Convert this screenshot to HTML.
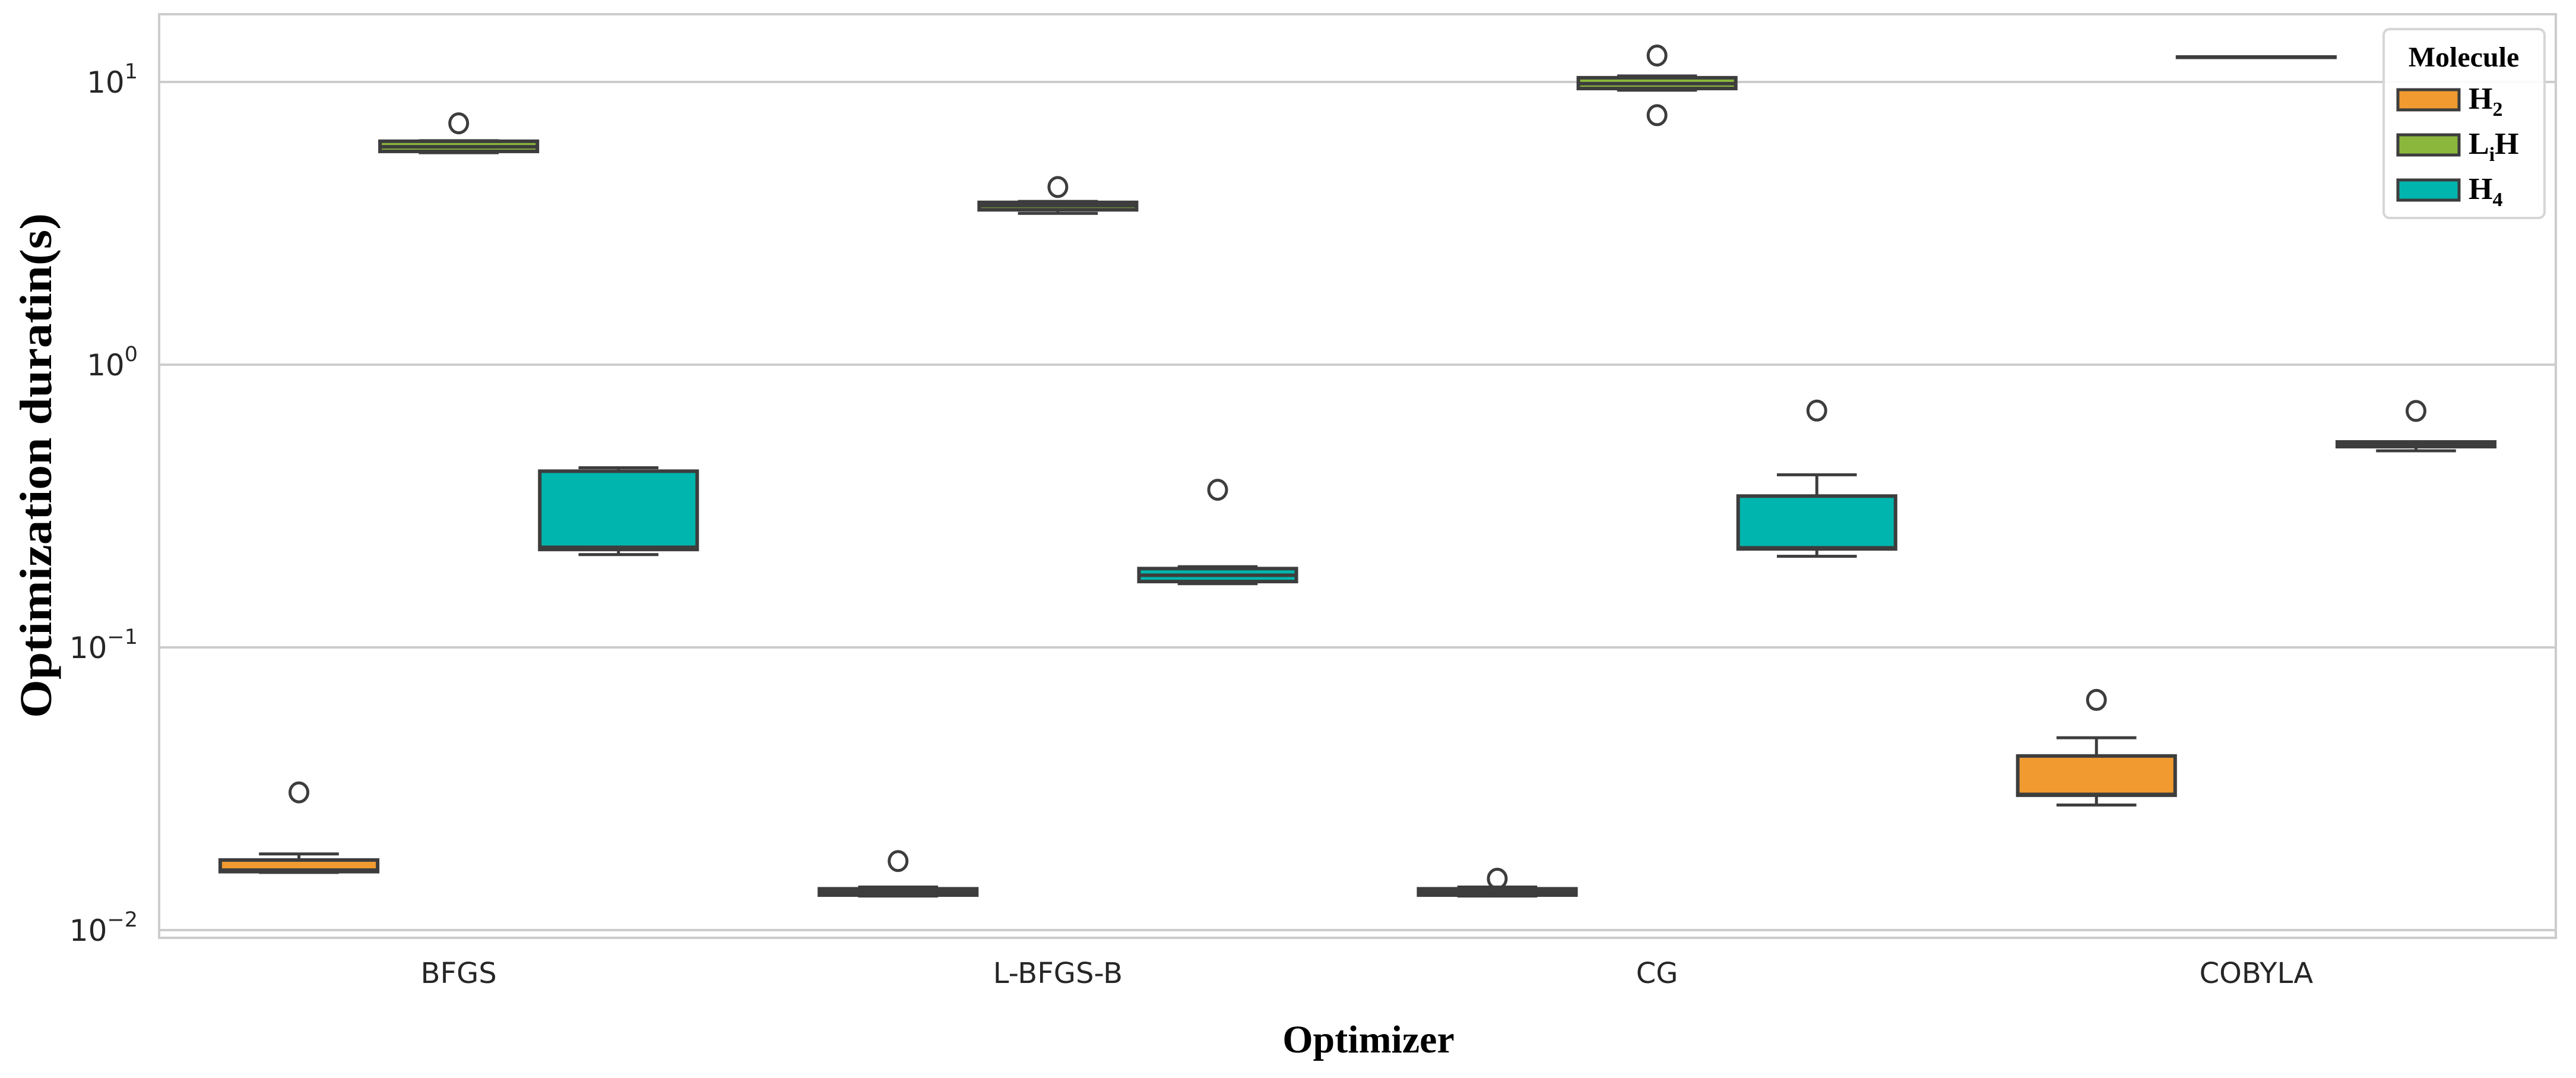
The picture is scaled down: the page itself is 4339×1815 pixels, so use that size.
<!DOCTYPE html>
<html><head><meta charset="utf-8">
<style>
html,body{margin:0;padding:0;background:#fff;}
svg{display:block;}
</style></head>
<body>
<svg id="chart" width="4339" height="1815" viewBox="0 0 4339 1815" xmlns="http://www.w3.org/2000/svg">
<rect x="0" y="0" width="4339" height="1815" fill="#fff"/>
<g id="grid"></g>
<rect x="268" y="24" width="4037" height="1555" fill="none" stroke="#cccccc" stroke-width="4"/>
<g id="yticks"></g>
<g id="xticks"></g>
<g id="boxes"></g>
<text x="61" y="784" transform="rotate(-90 61 784)" text-anchor="middle" dominant-baseline="central" font-family="Liberation Serif, serif" font-weight="bold" font-size="76" textLength="850" lengthAdjust="spacingAndGlyphs" fill="#000">Optimization duratin(s)</text>
<text x="2305" y="1772" text-anchor="middle" font-family="Liberation Serif, serif" font-weight="bold" font-size="66" fill="#000">Optimizer</text>
<g>
  <rect x="4015" y="49" width="271" height="318" rx="10" fill="#fff" fill-opacity="0.9" stroke="#d6d6d6" stroke-width="4"/>
  <text x="4150" y="112" text-anchor="middle" font-family="Liberation Serif, serif" font-weight="bold" font-size="48" fill="#000">Molecule</text>
  <g>
    <rect x="4039" y="151" width="103" height="34" fill="#f09a30" stroke="#3d3d3d" stroke-width="5"/>
    <text x="4158" y="183" font-family="Liberation Serif, serif" font-weight="bold" font-size="52" fill="#000">H<tspan font-size="34" dy="12">2</tspan></text>
  </g>
  <g>
    <rect x="4039" y="227" width="103" height="34" fill="#8bb83c" stroke="#3d3d3d" stroke-width="5"/>
    <text x="4158" y="259" font-family="Liberation Serif, serif" font-weight="bold" font-size="52" fill="#000">L<tspan font-size="34" dy="12">i</tspan><tspan dy="-12">H</tspan></text>
  </g>
  <g>
    <rect x="4039" y="303" width="103" height="34" fill="#00b5ad" stroke="#3d3d3d" stroke-width="5"/>
    <text x="4158" y="335" font-family="Liberation Serif, serif" font-weight="bold" font-size="52" fill="#000">H<tspan font-size="34" dy="12">4</tspan></text>
  </g>
</g>
</svg>
<script>
// ---- data ----
const categories = ["BFGS", "L-BFGS-B", "CG", "COBYLA"];
const molecules = ["H2", "LiH", "H4"];
const colors = ["#f09a30", "#8bb83c", "#00b5ad"];
const tickExps = [-2, -1, 0, 1];
// per series: [whiskerLow, q1, median, q3, whiskerHigh] for each category
const h2Stats = [
  [0.0160, 0.0161, 0.0163, 0.0177, 0.0186],
  [0.0132, 0.0133, 0.0136, 0.0140, 0.0142],
  [0.0132, 0.0133, 0.0136, 0.0140, 0.0142],
  [0.0277, 0.0300, 0.0302, 0.0413, 0.0479]
];
const lihStats = [
  [5.62, 5.68, 5.90, 6.17, 6.20],
  [3.43, 3.53, 3.65, 3.75, 3.78],
  [9.35, 9.48, 9.86, 10.35, 10.5],
  [12.25, 12.25, 12.25, 12.25, 12.25]
];
const h4Stats = [
  [0.213, 0.222, 0.226, 0.420, 0.432],
  [0.168, 0.171, 0.180, 0.190, 0.193],
  [0.210, 0.223, 0.225, 0.343, 0.408],
  [0.496, 0.513, 0.520, 0.533, 0.533]
];
const h2Outliers = [[0.0307], [0.01755], [0.0152], [0.0652]];
const lihOutliers = [[7.14], [4.25], [12.4, 7.63], []];
const h4Outliers = [[], [0.361], [0.688], [0.686]];

// ---- axes ----
const X0 = 268, X1 = 4305;
const catW = (X1 - X0) / categories.length;
const boxW = catW * 0.8 / 3;
function xCat(i) { return X0 + catW * (i + 0.5); }
function xBox(i, s) { return xCat(i) + (s - 1) * boxW; }
function yVal(v) { return 614 - 476 * Math.log10(v); }

const NS = "http://www.w3.org/2000/svg";
function mk(tag, attrs, parent) {
  const e = document.createElementNS(NS, tag);
  for (const k in attrs) e.setAttribute(k, attrs[k]);
  parent.appendChild(e);
  return e;
}
const grid = document.getElementById("grid");
const yt = document.getElementById("yticks");
const xt = document.getElementById("xticks");
const bx = document.getElementById("boxes");

tickExps.forEach(function (ex) {
  const y = yVal(Math.pow(10, ex));
  const g = mk("line", {x1: X0, x2: X1, y1: y, y2: y, stroke: "#cccccc", "stroke-width": 4}, grid);
  
  
  const t = mk("text", {x: 232, y: y + 18, "text-anchor": "end", "font-family": "DejaVu Sans, sans-serif", "font-size": 50, fill: "#262626"}, yt);
  
  
  t.textContent = "10";
  const sup = document.createElementNS(NS, "tspan");
  sup.setAttribute("font-size", 35);
  sup.setAttribute("dy", -24);
  sup.textContent = ex < 0 ? "\u2212" + Math.abs(ex) : String(ex);
  t.appendChild(sup);
});

categories.forEach(function (c, i) {
  const t = mk("text", {x: xCat(i), y: 1655, "text-anchor": "middle", "font-family": "DejaVu Sans, sans-serif", "font-size": 48, fill: "#262626"}, xt);
  
  
  t.textContent = c;
});

const allStats = [h2Stats, lihStats, h4Stats];
const allOut = [h2Outliers, lihOutliers, h4Outliers];
const edge = "#3d3d3d";
allStats.forEach(function (stats, s) {
  stats.forEach(function (st, i) {
    const cx = xBox(i, s);
    const g = mk("g", {}, bx);
    
    
    const half = boxW / 2 - 2;
    const cap = boxW / 4;
    const yl = yVal(st[0]), yq1 = yVal(st[1]), ym = yVal(st[2]), yq3 = yVal(st[3]), yh = yVal(st[4]);
    const w1 = mk("line", {x1: cx, x2: cx, y1: yq3, y2: yh, stroke: edge, "stroke-width": 5}, g);
    
    
    const w2 = mk("line", {x1: cx, x2: cx, y1: yq1, y2: yl, stroke: edge, "stroke-width": 5}, g);
    
    
    const c1 = mk("line", {x1: cx - cap, x2: cx + cap, y1: yh, y2: yh, stroke: edge, "stroke-width": 5}, g);
    
    
    const c2 = mk("line", {x1: cx - cap, x2: cx + cap, y1: yl, y2: yl, stroke: edge, "stroke-width": 5}, g);
    
    
    const r = mk("rect", {x: cx - half, y: yq3, width: 2 * half, height: Math.max(yq1 - yq3, 0.5), fill: colors[s], stroke: edge, "stroke-width": 6}, g);
    
    
    const m = mk("line", {x1: cx - half, x2: cx + half, y1: ym, y2: ym, stroke: edge, "stroke-width": 6}, g);
    
    
    allOut[s][i].forEach(function (v) {
      const o = mk("ellipse", {cx: cx, cy: yVal(v), rx: 15, ry: 16, fill: "none", stroke: edge, "stroke-width": 5}, g);
      
      
    });
  });
});
</script>
</body></html>
